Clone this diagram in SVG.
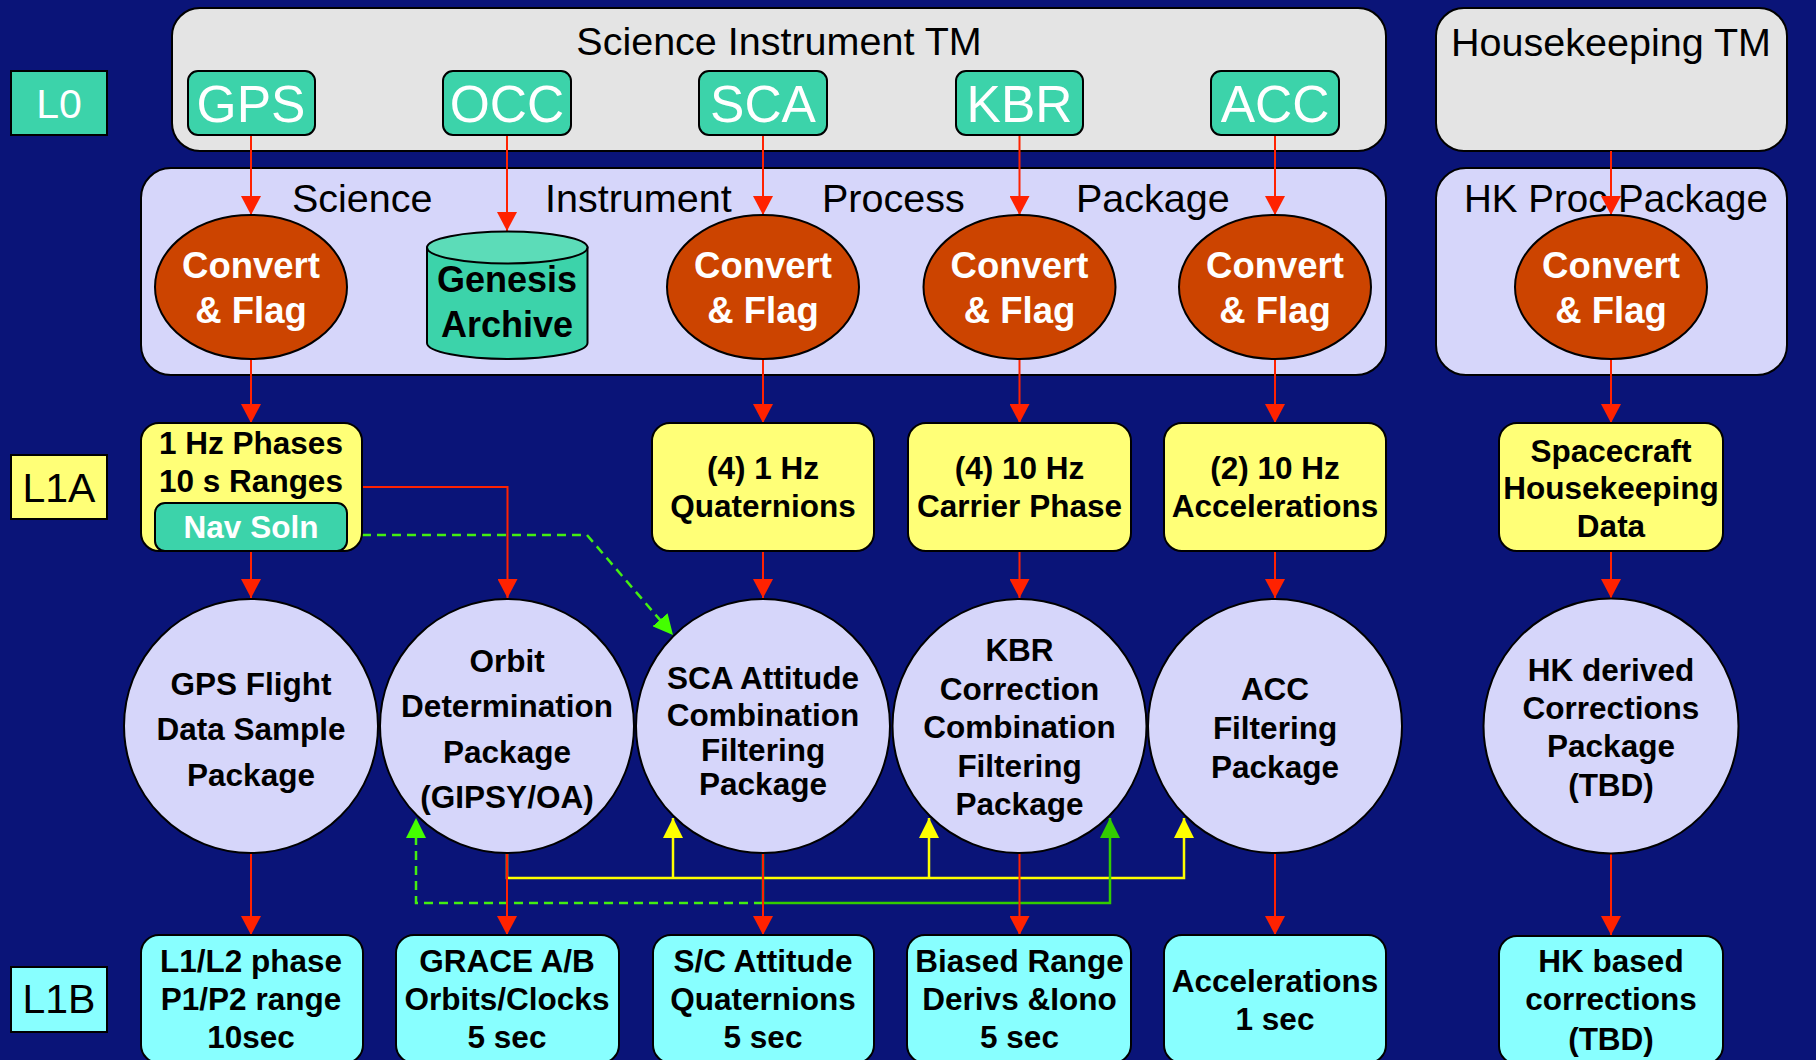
<svg xmlns="http://www.w3.org/2000/svg" width="1816" height="1060" viewBox="0 0 1816 1060">
<style>
.bg{fill:#0A1478}
.ctr-g{fill:#E4E4E4;stroke:#000;stroke-width:2}
.ctr-l{fill:#D6D6FA;stroke:#000;stroke-width:2}
.teal{fill:#3CD3AA;stroke:#000;stroke-width:2}
.yel{fill:#FFFF77;stroke:#000;stroke-width:2}
.cyan{fill:#88FFFF;stroke:#000;stroke-width:2}
.cf{fill:#CC4400;stroke:#000;stroke-width:2}
.pk{fill:#D6D6FA;stroke:#000;stroke-width:2}
.t{font-family:"Liberation Sans",Arial,sans-serif;fill:#000}
.title{font-size:39.5px}
.lvl{font-size:41px;text-anchor:middle}
.inst{font-size:51.5px;fill:#fff;text-anchor:middle}
.cft{font-size:36.5px;font-weight:bold;fill:#fff;text-anchor:middle}
.nb{font-size:31.5px;font-weight:bold;text-anchor:middle}
.red{stroke:#FF2200;stroke-width:2;fill:none}
.ylw{stroke:#FFFF00;stroke-width:2.5;fill:none}
.grn{stroke:#33CC00;stroke-width:2.5;fill:none}
.gdash{stroke:#44EE11;stroke-width:2.5;fill:none;stroke-dasharray:9 6}
</style>
<defs>
<marker id="ar" viewBox="0 0 19 20" markerWidth="19" markerHeight="20" refX="19" refY="10" orient="auto" markerUnits="userSpaceOnUse"><path d="M0,0 L19,10 L0,20 Z" fill="#FF2200"/></marker>
<marker id="ay" viewBox="0 0 20 20" markerWidth="20" markerHeight="20" refX="20" refY="10" orient="auto" markerUnits="userSpaceOnUse"><path d="M0,0 L20,10 L0,20 Z" fill="#FFFF00"/></marker>
<marker id="ag" viewBox="0 0 20 20" markerWidth="20" markerHeight="20" refX="20" refY="10" orient="auto" markerUnits="userSpaceOnUse"><path d="M0,0 L20,10 L0,20 Z" fill="#33CC00"/></marker>
<marker id="agd" viewBox="0 0 20 20" markerWidth="20" markerHeight="20" refX="20" refY="10" orient="auto" markerUnits="userSpaceOnUse"><path d="M0,0 L20,10 L0,20 Z" fill="#44FF00"/></marker>
</defs>
<rect class="bg" x="0" y="0" width="1816" height="1060"/>

<!-- containers -->
<g id="si-tm">
<rect class="ctr-g" x="172" y="8" width="1214" height="143" rx="28"/>
<text class="t title" x="779" y="55" text-anchor="middle">Science Instrument TM</text>
</g>
<g id="hk-tm">
<rect class="ctr-g" x="1436" y="8" width="351" height="143" rx="28"/>
<text class="t title" x="1611" y="56" text-anchor="middle">Housekeeping TM</text>
</g>
<g id="sipp">
<rect class="ctr-l" x="141" y="168" width="1245" height="207" rx="30"/>
<text class="t title" x="292" y="212">Science</text>
<text class="t title" x="545" y="212">Instrument</text>
<text class="t title" x="822" y="212">Process</text>
<text class="t title" x="1076" y="212">Package</text>
</g>
<g id="hkpp">
<rect class="ctr-l" x="1436" y="168" width="351" height="207" rx="30"/>
<text class="t" x="1616" y="212" text-anchor="middle" font-size="38.5">HK Proc Package</text>
</g>

<!-- level labels -->
<g id="label-L0"><rect class="teal" x="11" y="71" width="96" height="64"/><text class="t lvl" x="59" y="118" fill="#fff" style="fill:#fff">L0</text></g>
<g id="label-L1A"><rect class="yel" x="11" y="455" width="96" height="64"/><text class="t lvl" x="59" y="502">L1A</text></g>
<g id="label-L1B"><rect class="cyan" x="11" y="967" width="96" height="65"/><text class="t lvl" x="59" y="1013">L1B</text></g>

<!-- connectors -->
<g id="connectors">
<path class="red" d="M251,135 V215" marker-end="url(#ar)"/>
<path class="red" d="M507,135 V231" marker-end="url(#ar)"/>
<path class="red" d="M763,135 V215" marker-end="url(#ar)"/>
<path class="red" d="M1019.5,135 V215" marker-end="url(#ar)"/>
<path class="red" d="M1275,135 V215" marker-end="url(#ar)"/>
<path class="red" d="M1611,151 V215" marker-end="url(#ar)"/>
<path class="red" d="M251,359 V423" marker-end="url(#ar)"/>
<path class="red" d="M763,359 V423" marker-end="url(#ar)"/>
<path class="red" d="M1019.5,359 V423" marker-end="url(#ar)"/>
<path class="red" d="M1275,359 V423" marker-end="url(#ar)"/>
<path class="red" d="M1611,359 V423" marker-end="url(#ar)"/>
<path class="red" d="M251,551 V598" marker-end="url(#ar)"/>
<path class="red" d="M763,551 V598" marker-end="url(#ar)"/>
<path class="red" d="M1019.5,551 V598" marker-end="url(#ar)"/>
<path class="red" d="M1275,551 V598" marker-end="url(#ar)"/>
<path class="red" d="M1611,551 V598" marker-end="url(#ar)"/>
<path class="red" d="M362,487 H507.5 V598" marker-end="url(#ar)"/>
<path class="gdash" d="M347,535 H587 L673,635" marker-end="url(#agd)"/>
<path class="ylw" d="M507,853 V878 H1184 V818" marker-end="url(#ay)"/>
<path class="ylw" d="M673,878 V818" marker-end="url(#ay)"/>
<path class="ylw" d="M929,878 V818" marker-end="url(#ay)"/>
<path class="grn" d="M763,853 V903 H1110 V818" marker-end="url(#ag)"/>
<path class="gdash" d="M763,903 H416 V818" marker-end="url(#agd)"/>
<path class="red" d="M251,853 V935" marker-end="url(#ar)"/>
<path class="red" d="M507,853 V935" marker-end="url(#ar)"/>
<path class="red" d="M763,853 V935" marker-end="url(#ar)"/>
<path class="red" d="M1019.5,853 V935" marker-end="url(#ar)"/>
<path class="red" d="M1275,853 V935" marker-end="url(#ar)"/>
<path class="red" d="M1611,853 V935" marker-end="url(#ar)"/>
</g>

<!-- instrument TM boxes -->
<g id="gps-tm"><rect class="teal" x="188" y="71" width="127" height="64" rx="10"/><text class="t inst" x="251" y="121.5">GPS</text></g>
<g id="occ-tm"><rect class="teal" x="443" y="71" width="128" height="64" rx="10"/><text class="t inst" x="507" y="121.5">OCC</text></g>
<g id="sca-tm"><rect class="teal" x="699" y="71" width="128" height="64" rx="10"/><text class="t inst" x="763" y="121.5">SCA</text></g>
<g id="kbr-tm"><rect class="teal" x="956" y="71" width="127" height="64" rx="10"/><text class="t inst" x="1019.5" y="121.5">KBR</text></g>
<g id="acc-tm"><rect class="teal" x="1211" y="71" width="128" height="64" rx="10"/><text class="t inst" x="1275" y="121.5">ACC</text></g>

<!-- convert & flag -->
<g id="cf-gps"><ellipse class="cf" cx="251" cy="287" rx="96" ry="72"/><text class="t cft" x="251" y="278">Convert</text><text class="t cft" x="251" y="323">&amp; Flag</text></g>
<g id="genesis">
<path d="M427,247.5 V343 A80.25,16 0 0 0 587.5,343 V247.5 Z" fill="#3CD3AA" stroke="#000" stroke-width="2"/>
<ellipse cx="507.25" cy="247.5" rx="80.25" ry="16" fill="#5CDCB8" stroke="#000" stroke-width="2"/>
<text class="t" x="507" y="292" font-size="36px" font-weight="bold" text-anchor="middle">Genesis</text>
<text class="t" x="507" y="337" font-size="36px" font-weight="bold" text-anchor="middle">Archive</text>
</g>
<g id="cf-sca"><ellipse class="cf" cx="763" cy="287" rx="96" ry="72"/><text class="t cft" x="763" y="278">Convert</text><text class="t cft" x="763" y="323">&amp; Flag</text></g>
<g id="cf-kbr"><ellipse class="cf" cx="1019.5" cy="287" rx="96" ry="72"/><text class="t cft" x="1019.5" y="278">Convert</text><text class="t cft" x="1019.5" y="323">&amp; Flag</text></g>
<g id="cf-acc"><ellipse class="cf" cx="1275" cy="287" rx="96" ry="72"/><text class="t cft" x="1275" y="278">Convert</text><text class="t cft" x="1275" y="323">&amp; Flag</text></g>
<g id="cf-hk"><ellipse class="cf" cx="1611" cy="287" rx="96" ry="72"/><text class="t cft" x="1611" y="278">Convert</text><text class="t cft" x="1611" y="323">&amp; Flag</text></g>

<!-- L1A -->
<g id="l1a-gps"><rect class="yel" x="141" y="423" width="221" height="128" rx="18"/><text class="t nb" x="251" y="454">1 Hz Phases</text><text class="t nb" x="251" y="492">10 s Ranges</text></g>
<g id="nav-soln"><rect class="teal" x="155" y="503" width="192" height="48" rx="10"/><text class="t nb" x="251" y="538" style="fill:#fff">Nav Soln</text></g>
<g id="l1a-sca"><rect class="yel" x="652" y="423" width="222" height="128" rx="18"/><text class="t nb" x="763" y="479">(4) 1 Hz</text><text class="t nb" x="763" y="517">Quaternions</text></g>
<g id="l1a-kbr"><rect class="yel" x="908" y="423" width="223" height="128" rx="18"/><text class="t nb" x="1019.5" y="479">(4) 10 Hz</text><text class="t nb" x="1019.5" y="517">Carrier Phase</text></g>
<g id="l1a-acc"><rect class="yel" x="1164" y="423" width="222" height="128" rx="18"/><text class="t nb" x="1275" y="479">(2) 10 Hz</text><text class="t nb" x="1275" y="517">Accelerations</text></g>
<g id="l1a-hk"><rect class="yel" x="1499" y="423" width="224" height="128" rx="18"/><text class="t nb" x="1611" y="462">Spacecraft</text><text class="t nb" x="1611" y="499">Housekeeping</text><text class="t nb" x="1611" y="537">Data</text></g>

<!-- packages -->
<g id="p-gps"><circle class="pk" cx="251" cy="726" r="127"/><text class="t nb" x="251" y="695">GPS Flight</text><text class="t nb" x="251" y="740">Data Sample</text><text class="t nb" x="251" y="786">Package</text></g>
<g id="p-orbit"><circle class="pk" cx="507" cy="726" r="127"/><text class="t nb" x="507" y="672">Orbit</text><text class="t nb" x="507" y="717">Determination</text><text class="t nb" x="507" y="763">Package</text><text class="t nb" x="507" y="808">(GIPSY/OA)</text></g>
<g id="p-sca"><circle class="pk" cx="763" cy="726" r="127"/><text class="t nb" x="763" y="689">SCA Attitude</text><text class="t nb" x="763" y="726">Combination</text><text class="t nb" x="763" y="761">Filtering</text><text class="t nb" x="763" y="795">Package</text></g>
<g id="p-kbr"><circle class="pk" cx="1019.5" cy="726" r="127"/><text class="t nb" x="1019.5" y="661">KBR</text><text class="t nb" x="1019.5" y="700">Correction</text><text class="t nb" x="1019.5" y="738">Combination</text><text class="t nb" x="1019.5" y="777">Filtering</text><text class="t nb" x="1019.5" y="815">Package</text></g>
<g id="p-acc"><circle class="pk" cx="1275" cy="726" r="127"/><text class="t nb" x="1275" y="700">ACC</text><text class="t nb" x="1275" y="739">Filtering</text><text class="t nb" x="1275" y="778">Package</text></g>
<g id="p-hk"><circle class="pk" cx="1611" cy="726" r="127.5"/><text class="t nb" x="1611" y="681">HK derived</text><text class="t nb" x="1611" y="719">Corrections</text><text class="t nb" x="1611" y="757">Package</text><text class="t nb" x="1611" y="796">(TBD)</text></g>

<!-- L1B -->
<g id="l1b-gps"><rect class="cyan" x="141" y="935" width="222" height="128" rx="18"/><text class="t nb" x="251" y="972">L1/L2 phase</text><text class="t nb" x="251" y="1010">P1/P2 range</text><text class="t nb" x="251" y="1048">10sec</text></g>
<g id="l1b-orbit"><rect class="cyan" x="396" y="935" width="223" height="128" rx="18"/><text class="t nb" x="507" y="972">GRACE A/B</text><text class="t nb" x="507" y="1010">Orbits/Clocks</text><text class="t nb" x="507" y="1048">5 sec</text></g>
<g id="l1b-sca"><rect class="cyan" x="653" y="935" width="221" height="128" rx="18"/><text class="t nb" x="763" y="972">S/C Attitude</text><text class="t nb" x="763" y="1010">Quaternions</text><text class="t nb" x="763" y="1048">5 sec</text></g>
<g id="l1b-kbr"><rect class="cyan" x="907" y="935" width="224" height="128" rx="18"/><text class="t nb" x="1019.5" y="972">Biased Range</text><text class="t nb" x="1019.5" y="1010">Derivs &amp;Iono</text><text class="t nb" x="1019.5" y="1048">5 sec</text></g>
<g id="l1b-acc"><rect class="cyan" x="1164" y="935" width="222" height="128" rx="18"/><text class="t nb" x="1275" y="992">Accelerations</text><text class="t nb" x="1275" y="1030">1 sec</text></g>
<g id="l1b-hk"><rect class="cyan" x="1499" y="936" width="224" height="128" rx="18"/><text class="t nb" x="1611" y="972">HK based</text><text class="t nb" x="1611" y="1010">corrections</text><text class="t nb" x="1611" y="1050">(TBD)</text></g>
</svg>
